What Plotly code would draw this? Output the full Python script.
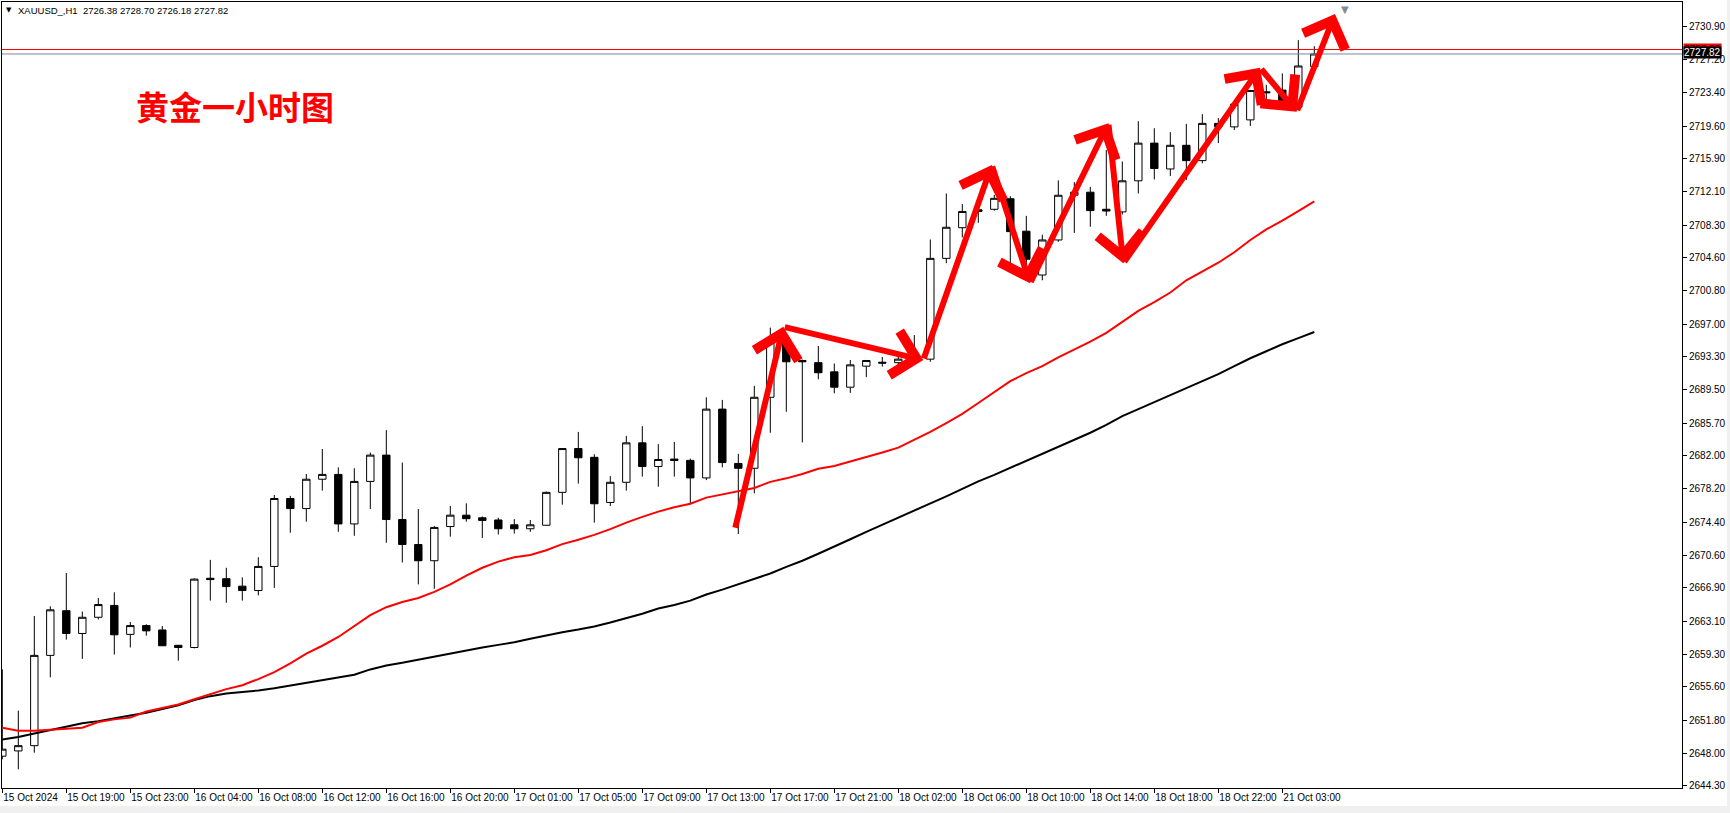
import plotly.graph_objects as go

# ---------------- data ----------------
opens = [2647.7, 2648.3, 2648.9, 2659.2, 2664.3, 2661.7, 2663.55, 2664.9, 2661.6, 2662.6,
         2662.1, 2660.35, 2660.1, 2668.0, 2667.95, 2667.1, 2666.6, 2669.35, 2677.1, 2675.95,
         2679.3, 2679.85, 2674.2, 2679.05, 2682.05, 2674.7, 2671.85, 2670.0, 2673.9, 2675.2,
         2674.9, 2674.65, 2674.1, 2673.65, 2674.05, 2677.8, 2682.8, 2681.8, 2676.65, 2678.95,
         2683.45, 2680.75, 2681.6, 2681.45, 2679.45, 2687.3, 2681.1, 2680.55, 2688.65, 2695.2,
         2692.85, 2692.6, 2691.55, 2689.8, 2692.2, 2692.65, 2692.6, 2693.0, 2693.0, 2704.5,
         2708.0, 2709.85, 2710.1, 2711.3, 2707.6, 2702.6, 2706.6, 2711.7, 2712.05, 2710.1,
         2709.8, 2713.35, 2717.65, 2714.7, 2717.4, 2715.65, 2719.9, 2719.5, 2720.3, 2723.5,
         2723.7, 2721.75, 2726.38]
highs = [2657.6, 2652.9, 2663.7, 2664.8, 2668.6, 2664.2, 2665.75, 2666.4, 2663.0, 2662.75,
         2662.55, 2660.4, 2668.0, 2670.1, 2669.2, 2668.1, 2670.4, 2677.5, 2677.4, 2679.9,
         2682.75, 2680.65, 2680.55, 2682.35, 2684.9, 2681.2, 2675.9, 2673.95, 2676.25, 2676.55,
         2675.05, 2674.9, 2674.75, 2674.65, 2677.9, 2682.8, 2684.7, 2682.15, 2679.65, 2684.25,
         2685.35, 2683.3, 2683.55, 2681.65, 2688.65, 2688.35, 2682.2, 2689.95, 2696.6, 2695.8,
         2692.95, 2694.5, 2692.5, 2692.9, 2692.9, 2693.25, 2693.8, 2695.75, 2706.65, 2711.9,
         2710.7, 2710.6, 2711.75, 2711.6, 2709.35, 2707.2, 2713.4, 2713.2, 2712.65, 2716.85,
         2715.55, 2720.15, 2719.35, 2718.9, 2719.85, 2720.95, 2720.5, 2722.35, 2723.7, 2724.3,
         2725.6, 2729.4, 2728.70]
lows = [2647.35, 2646.2, 2648.1, 2656.7, 2661.0, 2658.8, 2663.3, 2659.3, 2660.1, 2661.45,
        2660.3, 2658.6, 2660.0, 2665.45, 2665.2, 2665.45, 2666.05, 2666.9, 2673.2, 2674.45,
        2678.0, 2673.3, 2672.85, 2675.9, 2672.05, 2669.8, 2667.3, 2666.8, 2672.75, 2674.45,
        2672.6, 2673.0, 2673.1, 2673.3, 2674.0, 2676.4, 2678.8, 2674.35, 2676.25, 2678.0,
        2679.6, 2678.45, 2679.6, 2676.45, 2679.2, 2680.65, 2673.05, 2677.7, 2684.6, 2687.0,
        2683.5, 2690.7, 2689.1, 2689.15, 2690.95, 2692.15, 2692.2, 2692.6, 2692.7, 2703.95,
        2706.9, 2708.55, 2709.95, 2702.85, 2703.2, 2702.0, 2706.4, 2707.4, 2708.1, 2709.35,
        2709.5, 2711.9, 2713.5, 2713.9, 2713.45, 2715.35, 2717.65, 2719.15, 2719.6, 2722.25,
        2721.45, 2721.75, 2726.18]
closes = [2648.5, 2648.9, 2659.2, 2664.4, 2661.7, 2663.55, 2665.0, 2661.55, 2662.6, 2662.0,
          2660.3, 2660.1, 2667.9, 2667.85, 2667.05, 2666.6, 2669.35, 2677.1, 2675.95, 2679.3,
          2679.85, 2674.2, 2679.05, 2682.05, 2674.7, 2671.85, 2670.0, 2673.8, 2675.2, 2674.8,
          2674.6, 2673.65, 2673.65, 2674.1, 2677.8, 2682.8, 2681.75, 2676.5, 2678.95, 2683.45,
          2680.75, 2681.55, 2681.45, 2679.45, 2687.3, 2681.2, 2680.55, 2688.65, 2695.2, 2692.7,
          2692.7, 2691.45, 2689.8, 2692.35, 2692.85, 2692.55, 2693.0, 2693.3, 2704.5, 2708.05,
          2709.85, 2710.05, 2711.35, 2707.55, 2704.4, 2706.6, 2711.7, 2712.05, 2709.95, 2709.9,
          2713.35, 2717.65, 2714.75, 2717.4, 2715.65, 2719.9, 2719.5, 2722.1, 2723.65, 2723.4,
          2721.75, 2726.45, 2727.82]

ma_red = [2650.95, 2650.6, 2650.6, 2650.7, 2650.8, 2650.95, 2651.6, 2651.9, 2652.1, 2652.8,
          2653.2, 2653.6, 2654.2, 2654.8, 2655.35, 2655.8, 2656.5, 2657.3, 2658.3, 2659.4,
          2660.3, 2661.3, 2662.6, 2663.8, 2664.7, 2665.3, 2665.75, 2666.45, 2667.3, 2668.3,
          2669.2, 2669.9, 2670.4, 2670.65, 2671.2, 2671.9, 2672.4, 2672.95, 2673.6, 2674.35,
          2675.0, 2675.6, 2676.1, 2676.5, 2677.2, 2677.55, 2677.9, 2678.3, 2679.0, 2679.4,
          2679.9, 2680.5, 2680.8, 2681.3, 2681.8, 2682.35, 2682.9, 2683.8, 2684.7, 2685.7,
          2686.75, 2688.0, 2689.3, 2690.5, 2691.4, 2692.2, 2693.2, 2694.1, 2695.0, 2696.0,
          2697.3, 2698.5, 2699.5, 2700.6, 2702.0, 2703.0, 2704.0, 2705.2, 2706.6, 2707.8,
          2708.8, 2709.9, 2711.0]
ma_black = [2649.6, 2649.9, 2650.3, 2650.7, 2651.05, 2651.45, 2651.7, 2652.05, 2652.35, 2652.65,
            2653.05, 2653.5, 2654.1, 2654.55, 2654.85, 2655.0, 2655.2, 2655.45, 2655.75, 2656.05,
            2656.35, 2656.7, 2657.0, 2657.6, 2658.05, 2658.35, 2658.7, 2659.05, 2659.45, 2659.8,
            2660.1, 2660.4, 2660.7, 2661.1, 2661.5, 2661.85, 2662.15, 2662.5, 2662.95, 2663.45,
            2663.95, 2664.55, 2664.95, 2665.45, 2666.15, 2666.7, 2667.3, 2667.9, 2668.55, 2669.3,
            2670.0, 2670.8, 2671.6, 2672.45, 2673.3, 2674.1, 2674.9, 2675.7, 2676.5, 2677.35,
            2678.2, 2679.05, 2679.8, 2680.6, 2681.4, 2682.2, 2683.0, 2683.8, 2684.6, 2685.5,
            2686.5, 2687.3, 2688.1, 2688.9, 2689.7, 2690.5, 2691.3, 2692.2, 2693.1, 2693.9,
            2694.7, 2695.4, 2696.1]

bars = list(range(len(opens)))

time_tick_bars = [0, 4, 8, 12, 16, 20, 24, 28, 32, 36, 40, 44, 48, 52, 56, 60, 64, 68, 72, 76, 80]
time_labels = ["15 Oct 2024", "15 Oct 19:00", "15 Oct 23:00", "16 Oct 04:00", "16 Oct 08:00",
               "16 Oct 12:00", "16 Oct 16:00", "16 Oct 20:00", "17 Oct 01:00", "17 Oct 05:00",
               "17 Oct 09:00", "17 Oct 13:00", "17 Oct 17:00", "17 Oct 21:00", "18 Oct 02:00",
               "18 Oct 06:00", "18 Oct 10:00", "18 Oct 14:00", "18 Oct 18:00", "18 Oct 22:00",
               "21 Oct 03:00"]

price_ticks = [2730.90, 2727.20, 2723.40, 2719.60, 2715.90, 2712.10, 2708.30, 2704.60, 2700.80,
               2697.00, 2693.30, 2689.50, 2685.70, 2682.00, 2678.20, 2674.40, 2670.60, 2666.90,
               2663.10, 2659.30, 2655.60, 2651.80, 2648.00, 2644.30]

bid_price = 2727.82
ask_price = 2728.33
header_text = "XAUUSD_,H1  2726.38 2728.70 2726.18 2727.82"
title_cn = "黄金一小时图"

# hand-drawn zig-zag arrow path (bar index, price)
arrow_bar = [45.79, 48.81, 57.56, 61.84, 64.23, 69.13, 70.06, 78.61, 80.90, 83.29]
arrow_price = [2673.59, 2696.70, 2692.90, 2715.15, 2701.65, 2719.91, 2703.94, 2726.25, 2721.23, 2732.38]

shift_marker_bar = 83.9

# ---------------- figure ----------------
W, H = 1730, 813
ML, MR, MT, MB = 2, 48, 2, 25
pw, ph = W - ML - MR, H - MT - MB
FONT = "Liberation Sans"

fig = go.Figure()
fig.add_trace(go.Candlestick(
    x=bars, open=opens, high=highs, low=lows, close=closes,
    increasing=dict(line=dict(color="black", width=1), fillcolor="white"),
    decreasing=dict(line=dict(color="black", width=1), fillcolor="black"),
    whiskerwidth=0, hoverinfo="skip", showlegend=False))
fig.add_trace(go.Scatter(x=bars, y=ma_black, mode="lines", hoverinfo="skip",
                         line=dict(color="black", width=2), showlegend=False))
fig.add_trace(go.Scatter(x=bars, y=ma_red, mode="lines", hoverinfo="skip",
                         line=dict(color="#ff0000", width=2), showlegend=False))

shapes = [
    dict(type="line", xref="paper", x0=0, x1=1, yref="y", y0=ask_price, y1=ask_price,
         line=dict(color="#ff0000", width=1)),
    dict(type="line", xref="paper", x0=0, x1=1, yref="y", y0=bid_price, y1=bid_price,
         line=dict(color="#778899", width=1)),
    dict(type="rect", xref="paper", yref="paper", x0=-ML / pw, x1=(W - ML) / pw,
         y0=-MB / ph, y1=-(MB - 7) / ph,
         fillcolor="#f0f0f0", line=dict(width=0), layer="below"),
    dict(type="rect", xref="paper", yref="paper", x0=(W - 3 - ML) / pw, x1=(W - ML) / pw,
         y0=-MB / ph, y1=(ph + MT) / ph,
         fillcolor="#f0f0f0", line=dict(width=0), layer="below"),
]

annotations = []
# header
annotations.append(dict(xref="paper", yref="paper", x=(9 - ML) / pw, y=(ph + MT - 10.5) / ph,
                        text="▼", showarrow=False, xanchor="center", yanchor="middle",
                        font=dict(family="DejaVu Sans", size=7, color="black")))
annotations.append(dict(xref="paper", yref="paper", x=(16 - ML) / pw, y=(ph + MT - 10.5) / ph,
                        text=header_text, showarrow=False, xanchor="left", yanchor="middle",
                        font=dict(family=FONT, size=9.5, color="black")))
# Chinese title
annotations.append(dict(xref="paper", yref="paper", x=(134 - ML) / pw, y=(ph + MT - 106) / ph,
                        text="<b>" + title_cn + "</b>", showarrow=False, xanchor="left",
                        yanchor="middle",
                        font=dict(family="Noto Sans CJK SC", size=33, color="#ff0000")))
# price labels on the right scale
annotations.append(dict(xref="paper", yref="y", x=1, y=ask_price, xanchor="left", xshift=1,
                        yanchor="middle", text=f"{ask_price:.2f}", showarrow=False,
                        bgcolor="#ff0000", borderpad=0,
                        font=dict(family=FONT, size=10, color="black")))
annotations.append(dict(xref="paper", yref="y", x=1, y=bid_price, xanchor="left", xshift=1,
                        yanchor="middle", yshift=1, text=f"{bid_price:.2f}", showarrow=False,
                        bgcolor="black", borderpad=0,
                        font=dict(family=FONT, size=10, color="white")))
# chart shift marker
annotations.append(dict(xref="x", yref="paper", x=shift_marker_bar, y=1, xanchor="center",
                        yanchor="top", text="▼", showarrow=False,
                        font=dict(family="DejaVu Sans", size=10, color="#7f8c9a")))
# zig-zag arrows
for i in range(1, len(arrow_bar)):
    annotations.append(dict(
        xref="x", yref="y", axref="x", ayref="y",
        x=arrow_bar[i], y=arrow_price[i], ax=arrow_bar[i - 1], ay=arrow_price[i - 1],
        text="", showarrow=True, arrowhead=4, arrowsize=1.45, arrowwidth=6,
        arrowcolor="#ff0000", standoff=0))

fig.update_layout(
    width=W, height=H,
    margin=dict(l=ML, r=MR, t=MT, b=MB, pad=0),
    paper_bgcolor="white", plot_bgcolor="white",
    showlegend=False, boxgap=0.34,
    xaxis=dict(range=[-0.019, 104.98], showgrid=False, zeroline=False,
               showline=True, linecolor="black", linewidth=1, mirror=True,
               ticks="outside", ticklen=4, tickcolor="black", tickwidth=1,
               tickvals=time_tick_bars, ticktext=time_labels, tickangle=0,
               ticklabelposition="outside right",
               tickfont=dict(family=FONT, size=10, color="black"),
               rangeslider=dict(visible=False), fixedrange=True),
    yaxis=dict(range=[2644.07, 2733.75], side="right", showgrid=False, zeroline=False,
               showline=True, linecolor="black", linewidth=1, mirror=True,
               ticks="outside", ticklen=4, tickcolor="black", tickwidth=1,
               tickvals=price_ticks, ticktext=[f"{v:.2f}" for v in price_ticks],
               tickfont=dict(family=FONT, size=10, color="black"), fixedrange=True),
    shapes=shapes, annotations=annotations,
)

fig.write_html("out.html", config={"displayModeBar": False},
               post_script="document.body.style.margin='0';document.body.style.overflow='hidden';")
